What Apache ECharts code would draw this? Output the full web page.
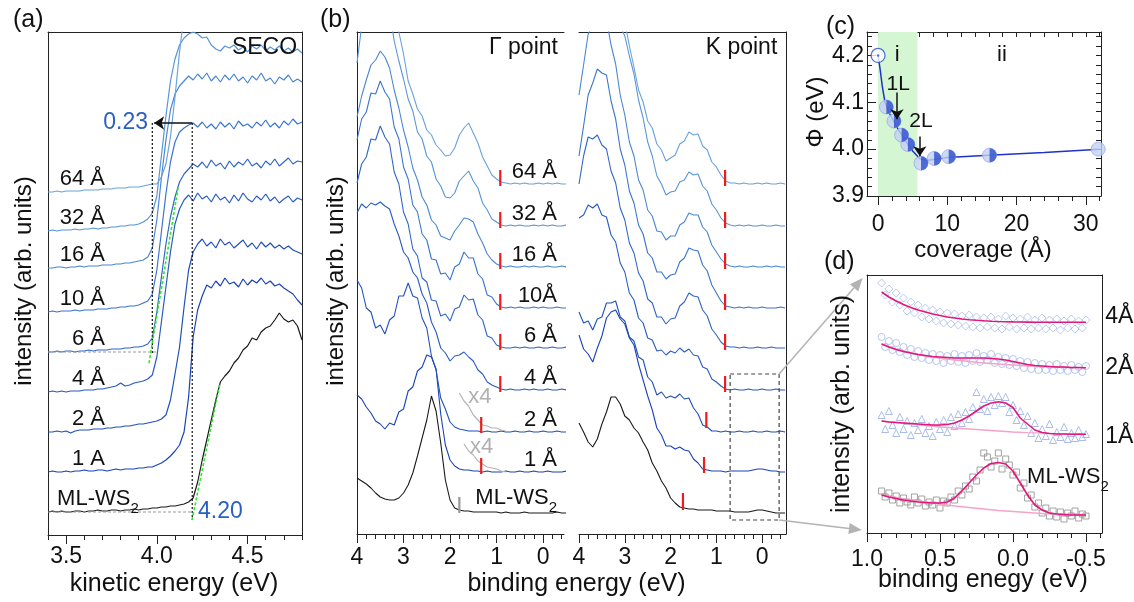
<!DOCTYPE html>
<html><head><meta charset="utf-8">
<script src="https://cdn.jsdelivr.net/npm/echarts@6/dist/echarts.min.js"></script>
<style>html,body{margin:0;padding:0;background:#fff}#c{width:1134px;height:602px}</style>
</head><body><div id="c"></div>
<script>
// ================= DATA =================
function range(a, step, n){const r=[];for(let i=0;i<n;i++)r.push(+(a+step*i).toFixed(4));return r;}
// ---- panel (a): SECO, kinetic energy grid 3.4..4.8 (0.025 eV) ----
const keA = range(3.4, 0.025, 57);
const aLabels = ['ML-WS','1 A','2 Å','4 Å','6 Å','10 Å','16 Å','32 Å','64 Å'];
const aOffsets = [23, 63, 103, 143, 183, 223, 267, 304, 343];
const aML  = [0,1,0,1,0,0,1,1,0,1,1,2,1,1,2,2,1,2,2,3,2, 3,3,4,4,5,5,6,6,7,8,10,14, 30,52,72,92,112,130,136,141,149,154,162,166,174,172,180,184,186,192,199,193,190,192,186,172];
const a1   = [0,1,0,0,1,0,1,1,2,1,1,2,2,1,2,3,2,3,3,3,4, 4,5,5,7,9,12,16,21,27,40,75,135, 162,176,187,184,191,186,194,188,190,185,193,187,192,189,194,188,191,186,188,184,181,178,172,167];
const a2   = [0,0,1,0,1,-1,1,2,2,2,3,3,3,4,4,5,5,6,6,7,8, 8,9,10,11,13,17,32,58,85,125,162,180, 188,193,186,190,184,193,187,190,184,188,192,185,189,183,190,185,189,184,187,183,186,182,180,178];
const a4   = [0,1,0,1,0,1,1,1,2,2,2,3,3,4,5,6,9,6,7,9,10, 11,13,17,35,70,105,140,168,183,192,197,191, 199,193,196,190,198,192,195,189,197,191,199,193,190,196,192,198,191,195,189,193,196,190,194,192];
const a6   = [0,0,1,0,1,1,0,1,1,2,1,2,2,2,3,3,3,4,4,5,5, 6,8,14,40,75,108,135,155,170,178,183,188, 185,190,184,192,186,189,183,191,185,190,187,193,186,189,184,191,187,193,186,190,194,188,191,190];
const a10  = [0,1,0,1,1,1,2,1,2,2,2,3,3,3,4,4,5,5,6,6,7, 9,11,18,42,80,118,150,170,180,184,187,189, 185,190,184,188,183,190,185,189,183,191,186,188,184,190,186,192,185,189,184,191,187,193,188,190];
const a16  = [0,0,1,1,0,1,1,2,1,2,2,2,3,3,3,4,4,5,5,6,7, 8,11,20,48,90,128,158,174,182,187,192,188, 194,189,195,187,192,186,193,188,194,187,191,185,192,188,195,187,190,184,191,188,193,186,189,186];
const a32  = [0,1,0,1,1,1,2,1,2,2,3,2,3,3,4,4,5,5,6,6,7, 9,12,18,35,75,115,150,172,186,193,197,199, 197,193,194,186,182,180,185,183,186,181,184,179,185,182,186,180,184,181,185,180,183,179,182,178];
const a64  = [0,0,1,0,1,1,1,1,2,2,2,2,3,3,3,4,4,4,5,5,5, 6,7,8,8,15,28,55,95,140,178,192,198, 196,199,194,197,193,198,195,196,193,197,194,199,195,196,192,197,194,198,195,193,196,194,197,195];
const aCurves = [aML,a1,a2,a4,a6,a10,a16,a32,a64];

// ---- panel (b): binding energy grid 4.0..-0.5 (0.1 eV) ----
const beB = range(4.0, -0.1, 46);
const bLabels = ['ML-WS','1 Å','2 Å','4 Å','6 Å','10Å','16 Å','32 Å','64 Å'];
const bOffsets = [21, 62, 102, 144, 186, 226, 267, 308, 350];
const gML = [35,32,29,25,20,16,14,13,13,15, 20,28,40,57,75,93,117,102,70,33, 13,5,3,2,2,1,1,1,1,1, 1,0,1,0,0,0,1,0,0,0, 0,0,0,1,0,0];
const g1  = [77,73,65,59,51,48,43,49,47,60, 63,81,85,101,105,117,115,103,58,27, 12,6,3,2,2,1,1,0,1,0, 0,0,1,0,0,1,0,0,1,0, 0,1,0,0,0,1];
const g2  = [152,144,124,120,104,107,98,112,116,136, 136,149,136,134,114,104,76,62,34,23, 10,5,3,2,1,1,1,0,1,0, 0,1,0,0,1,0,0,1,0,0, 1,0,0,1,0,0];
const g4  = [177,186,182,187,185,188,184,181,166,154, 138,132,118,112,96,87,68,58,42,37, 29,34,35,38,33,29,20,16,8,5, 3,1,0,1,0,0,1,0,1,0, 0,1,0,0,1,0];
const g6  = [165,184,191,209,208,222,211,204,176,164, 136,124,99,92,70,66,48,47,32,34, 27,39,41,53,48,49,33,28,12,10, 3,1,0,0,1,0,1,0,0,1, 0,0,1,0,0,1];
const g10 = [168,189,196,215,214,227,216,209,181,169, 141,129,103,96,74,68,49,48,34,35, 28,41,44,56,50,50,34,29,13,11, 4,1,0,1,0,1,0,0,1,0, 1,0,0,1,0,0];
const g16 = [150,171,187,202,207,216,210,199,177,159, 137,120,99,87,70,62,47,42,31,29, 27,36,42,49,48,45,33,24,13,7, 3,1,0,1,0,0,1,0,1,0, 0,1,0,0,1,0];
const g32 = [163,200,225,240,248,252,245,215,185,165, 147,127,115,94,87,70,64,47,40,29, 28,33,45,50,55,45,38,23,16,7, 4,1,0,1,0,1,0,0,1,0, 1,0,1,0,0,1];
const g64 = [200,230,250,262,268,270,268,240,195,152, 130,103,90,75,68,54,49,39,34,28, 29,36,49,56,61,51,41,27,18,9, 5,2,1,0,1,0,1,0,0,1, 0,1,0,1,0,0];
const gCurves = [gML,g1,g2,g4,g6,g10,g16,g32,g64];
const kML = [90,81,71,66,74,89,101,116,116,109, 97,93,85,80,71,63,50,42,32,25, 15,10,6,5,4,4,3,3,3,3, 2,2,2,2,1,1,1,1,2,3, 3,2,1,0,0,0];
const k1  = [137,123,118,110,124,136,154,160,162,153, 148,134,127,108,92,76,62,44,37,26, 26,23,25,22,21,13,9,3,2,1, 1,1,0,1,1,1,1,1,2,3, 3,2,1,1,0,0];
const k2  = [120,109,111,102,113,115,129,129,131,115, 111,95,91,75,72,55,50,37,40,34, 36,34,38,33,34,24,18,7,5,1, 1,0,1,0,0,1,0,0,1,0, 0,1,0,0,1,0];
const k4  = [172,175,185,182,186,175,173,155,148,127, 118,97,90,72,67,52,50,39,40,35, 39,37,42,38,41,35,34,23,21,11, 8,4,1,0,1,0,0,1,0,0, 1,0,0,1,0,0];
const k6  = [164,192,211,209,213,203,199,177,165,140, 128,105,95,75,67,49,45,31,31,24, 29,30,42,46,55,52,51,38,32,19, 13,6,2,1,1,0,1,0,0,1, 0,0,1,0,0,0];
const k10 = [152,182,213,225,239,235,233,207,189,159, 143,117,105,83,74,55,50,36,36,29, 33,34,46,50,60,58,57,43,37,23, 15,7,2,1,0,1,0,1,0,0, 1,0,0,0,1,0];
const k16 = [172,202,233,242,253,249,247,222,203,172, 152,125,111,87,77,57,51,36,35,27, 31,31,42,45,54,52,52,40,35,22, 15,8,3,1,0,1,0,0,1,0, 0,1,0,1,0,0];
const k32 = [200,230,250,260,262,262,255,235,215,200, 190,170,152,126,108,84,70,50,42,31, 34,35,44,46,54,51,52,40,35,22, 16,8,3,1,0,1,0,1,0,0, 1,0,0,1,0,0];
const k64 = [230,245,255,262,265,265,255,230,205,180, 162,138,117,94,82,63,56,40,34,23, 26,29,40,43,52,49,50,38,34,22, 17,9,3,1,1,0,1,0,0,1, 0,1,0,0,1,0];
const kCurves = [kML,k1,k2,k4,k6,k10,k16,k32,k64];
// x4 magnified traces (Γ, 1 Å and 2 Å)
const gx4BE2 = [1.8,1.7,1.6,1.5,1.4,1.3,1.2,1.1,1.0,0.9,0.8];
const gx4v2  = [39,31,26,17,12,7,6,4,4,2,1];
const gx4BE1 = [1.7,1.6,1.5,1.4,1.3,1.2,1.1,1.0,0.9,0.8];
const gx4v1  = [28,21,17,11,8,5,4,3,1,0];
// onset marks (binding energy)
const gMarkBE = [1.8,1.33,1.33,0.92,0.92,0.92,0.92,0.92,0.92];
const kMarkBE = [1.73,1.27,1.22,0.81,0.81,0.81,0.81,0.81,0.81];

// ---- panel (c): work function vs coverage ----
const cCov = [0, 1.2, 2.3, 3.4, 4.3, 6.2, 8.1, 10.2, 16.1, 31.8];
const cPhi = [4.20, 4.09, 4.06, 4.03, 4.01, 3.97, 3.98, 3.984, 3.987, 4.0];
const cFitCov = [0,0.3,0.6,1.0,1.5,2,2.5,3,4,5,6,7,8,10,16,24,32];
const cFitPhi = [4.2,4.17,4.135,4.1,4.08,4.067,4.053,4.04,4.017,3.996,3.98,3.976,3.978,3.982,3.987,3.993,4.0];

// ---- panel (d): zoom near E_F ----
const beD = range(0.9, -0.025, 57);
const beFit = range(0.9, -0.05, 29);
const beBg = range(0.9, -0.1, 15);
const dML = [42,36,40,33,37,30,35,31,28,36,30,34,27,31,28,33,25,32,30,36,33,42,38,47,44,56,52,63,80,76,66,72,80,64,74,68,58,61,45,50,35,38,26,30,20,25,17,22,16,21,14,20,17,22,15,19,17];
const d1  = [118,104,122,108,100,116,104,112,98,110,103,114,100,107,97,111,104,113,101,116,107,119,110,121,114,126,141,124,134,122,136,128,137,130,136,121,128,113,122,108,117,100,110,95,104,97,109,93,101,96,106,94,100,95,103,96,99];
const d2  = [196,186,192,183,190,181,186,178,184,176,182,175,180,173,179,172,178,170,177,172,179,171,177,170,178,172,180,171,177,173,179,170,176,169,175,168,174,167,172,165,171,164,170,163,169,163,168,162,169,163,167,162,168,163,166,161,167];
const d4  = [250,238,244,231,240,228,235,222,231,220,228,216,225,214,223,212,221,210,220,209,219,208,217,207,218,206,216,205,215,206,216,205,214,204,217,206,215,204,214,205,216,204,213,205,215,204,213,205,214,203,212,205,214,204,212,205,213];
const dFitML = [38,36,34.5,33,32,31,30.5,30,30,31,35,42,50,58,65,69.5,70.5,69,62,50,38,28,23,20,19,18.5,18,18,18];
const dFit1  = [112,111,110.5,110,109.5,109,108.5,108,108,108.5,110,113,117,122,127,130,131.3,130,125.5,115,109,103,100.5,99.5,99,99,98.8,98.7,98.7];
const dFit2  = [189,186,183.5,181.5,180,178.5,177.5,176.5,176,175.5,175,175,175,175,175,174.5,174,173,171.5,170,168.5,167.5,167,166.5,166,166,165.5,165.5,165.3];
const dFit4  = [241,236,232,228.5,225.5,223,221,219,217.5,216,215,214,213.3,212.7,212.2,211.8,211.5,211.3,211.1,211,210.9,210.8,210.8,210.7,210.7,210.7,210.7,210.7,210.7];
const dBgML = [38,35.5,33,31,29,27,25.5,24,22.5,21.5,20.5,19.5,19,18.5,18];
const dBg1  = [112,110.5,109,107.5,106,105,104,103,102,101,100.3,99.8,99.3,99,98.7];
const dBg2  = [189,184,180,177,175,173,171.5,170,169,168,167,166.5,166,165.5,165.3];

// ================= CHART =================
const F = '"Liberation Sans", Arial, Helvetica, sans-serif';
const cols = ['#1a1a1a','#1b43b5','#2150bb','#295bc1','#3066c6','#3b75cc','#4a86d2','#5895d8','#68a3dd'];
const chart = echarts.init(document.getElementById('c'));
const AX = {color:'#222', width:1};
function botAxes(gi,min,max,inv,minor,major,labels,fmt,margin){
  return [
    {type:'value',gridIndex:gi,position:'bottom',min,max,inverse:inv,
     axisLine:{show:true,onZero:false,lineStyle:AX},
     axisTick:{show:true,customValues:minor,length:5,lineStyle:AX},
     axisLabel:{show:true,customValues:labels,formatter:fmt,fontSize:23,fontFamily:F,color:'#111',margin},
     splitLine:{show:false}},
    {type:'value',gridIndex:gi,position:'bottom',min,max,inverse:inv,
     axisLine:{show:false,onZero:false},axisTick:{show:true,customValues:major,length:9,lineStyle:AX},
     axisLabel:{show:false},splitLine:{show:false}}
  ];
}
function lineAxis(kind,gi,pos,min,max,inv,extra){
  return Object.assign({type:'value',gridIndex:gi,position:pos,min,max,inverse:!!inv,
    axisLine:{show:true,onZero:false,lineStyle:AX},axisTick:{show:false},axisLabel:{show:false},splitLine:{show:false}},extra||{});
}
const r1 = v=>v.toFixed(1), r0 = v=>String(Math.round(v));
const aMinor = range(3.4,0.1,15), bMinor = range(4.0,-0.2,23), dMinor = range(1.0,-0.1,17);
const xAxis = [].concat(
  botAxes(0,3.4,4.8,false,aMinor,[3.5,4.0,4.5],[3.5,4.0,4.5],r1,10),   //0,1
  [lineAxis('x',0,'top',3.4,4.8)],                                       //2
  botAxes(1,-0.45,4,true,bMinor,[0,1,2,3,4],[0,1,2,3,4],r0,12),        //3,4
  [lineAxis('x',1,'top',-0.45,4,true)],                                  //5
  botAxes(2,-0.52,4,true,bMinor,[0,1,2,3,4],[0,1,2,3,4],r0,12),        //6,7
  [lineAxis('x',2,'top',-0.52,4,true)],                                  //8
  botAxes(3,-1.6,32.2,false,range(0,2,17),[0,10,20,30],[0,10,20,30],r0,17), //9,10
  [lineAxis('x',3,'top',-1.6,32.2,false,{axisTick:{show:true,inside:true,customValues:range(0,2,17),length:5,lineStyle:AX}})], //11
  botAxes(4,-0.61,1.0,true,dMinor,[1.0,0.5,0,-0.5],[1.0,0.5,0,-0.5],r1,15), //12,13
  [lineAxis('x',4,'top',-0.61,1.0,true)]                                 //14
);
const cMinorY = range(3.9,0.02,18);
const yAxis = [
  lineAxis('y',0,'left',0,503),            //0
  lineAxis('y',0,'right',0,503),           //1
  lineAxis('y',1,'left',0,502),            //2
  {type:'value',gridIndex:2,min:0,max:502,show:false}, //3
  lineAxis('y',2,'right',0,502),           //4
  {type:'value',gridIndex:3,position:'left',min:3.9,max:4.25,
   axisLine:{show:true,onZero:false,lineStyle:AX},
   axisTick:{show:true,inside:true,customValues:cMinorY,length:5,lineStyle:AX},
   axisLabel:{show:true,customValues:[3.9,4.0,4.1,4.2],formatter:r1,fontSize:23,fontFamily:F,color:'#111',margin:3},
   splitLine:{show:false}},                //5
  {type:'value',gridIndex:3,position:'left',min:3.9,max:4.25,axisLine:{show:false,onZero:false},
   axisTick:{show:true,inside:true,customValues:[3.9,4.0,4.1,4.2],length:9,lineStyle:AX},axisLabel:{show:false},splitLine:{show:false}}, //6
  lineAxis('y',3,'right',3.9,4.25,false,{axisTick:{show:true,inside:true,customValues:cMinorY,length:5,lineStyle:AX}}), //7
  lineAxis('y',4,'left',0,258),            //8
  lineAxis('y',4,'right',0,258)            //9
];
const S = [];
function addLine(xi,yi,xs,ys,off,color,w,extra){
  S.push(Object.assign({type:'line',xAxisIndex:xi,yAxisIndex:yi,data:xs.map((x,i)=>[x,ys[i]+off]),
    symbol:'none',lineStyle:{color,width:w||1.1},silent:true,z:3},extra||{}));
}
function dashed(xi,yi,xs,ys,color,type,w){ addLine(xi,yi,xs,ys,0,color,w||1.2,{lineStyle:{color,width:w||1.2,type},z:4}); }
// (a)
aCurves.forEach((c,k)=>addLine(0,0,keA,c,aOffsets[k],cols[k],1.2));
dashed(0,0,[3.4,4.0],[183,183],'#999',[3,2]);
dashed(0,0,[3.4,4.2],[23,23],'#999',[3,2]);
dashed(0,0,[3.975,3.975],[412,180],'#111',[2,2]);
dashed(0,0,[4.195,4.195],[412,15],'#111',[2,2]);
dashed(0,0,[3.957,4.117],[172,347],'#2ee62e',[3,2],1.6);
dashed(0,0,[4.194,4.348],[15,152],'#2ee62e',[3,2],1.6);
S.push({type:'lines',coordinateSystem:'cartesian2d',xAxisIndex:0,yAxisIndex:0,silent:true,z:6,
  data:[{coords:[[4.195,412],[3.985,412]]}],symbol:['none','arrow'],symbolSize:10,
  lineStyle:{color:'#111',width:1.5,opacity:1}});
// (b)
const markLo=[0,-2,-1,-2,-2,-2,-2,-2,-2], markHi=[16,14,15,14,14,14,14,14,14];
const kLo=[3,-1,4,-2,-2,-2,-2,-2,-2], kHi=[20,15,20,14,14,14,14,14,14];
gCurves.forEach((c,k)=>addLine(3,2,beB,c,bOffsets[k],cols[k],1.1));
kCurves.forEach((c,k)=>addLine(6,3,beB,c,bOffsets[k],cols[k],1.1));
addLine(3,2,gx4BE2,gx4v2,bOffsets[2],'#b5b5b5',1.2);
addLine(3,2,gx4BE1,gx4v1,bOffsets[1],'#b5b5b5',1.2);
gMarkBE.forEach((b,k)=>addLine(3,2,[b,b],[markLo[k],markHi[k]],bOffsets[k],k===0?'#999':'#ee1c1c',2.2,{z:5}));
kMarkBE.forEach((b,k)=>addLine(6,3,[b,b],[kLo[k],kHi[k]],bOffsets[k],'#ee1c1c',2.2,{z:5}));
dashed(6,3,[0.70,-0.37,-0.37,0.70,0.70],[160,160,14,14,160],'#444',[4,3],1.2);
// (c)
S.push({type:'line',xAxisIndex:9,yAxisIndex:5,data:[[0,3.95]],symbol:'none',lineStyle:{width:0},silent:true,z:1,
  markArea:{silent:true,itemStyle:{color:'#d4f6d2'},data:[[{xAxis:0},{xAxis:5.7}]]}});
addLine(9,5,cFitCov,cFitPhi,0,'#1f33c9',1.5,{z:3});
S.push({type:'scatter',xAxisIndex:9,yAxisIndex:5,silent:true,z:4,symbol:'circle',symbolSize:14,
  data:cCov.slice(1).map((x,i)=>[x,cPhi[i+1]]),itemStyle:{color:'#c3d1f4',borderColor:'#98ace8',borderWidth:1}});
S.push({type:'scatter',xAxisIndex:9,yAxisIndex:5,silent:true,z:5,symbol:'path://M0,0A10,10 0 0,1 0,20Z',
  symbolSize:[7,14],symbolOffset:[3.5,0],data:cCov.slice(1,9).map((x,i)=>[x,cPhi[i+1]]),itemStyle:{color:'#2d4dcc'}});
S.push({type:'scatter',xAxisIndex:9,yAxisIndex:5,silent:true,z:6,symbol:'circle',symbolSize:14,
  data:[[cCov[0],cPhi[0]]],itemStyle:{color:'#fff',borderColor:'#2d4dcc',borderWidth:1.3}});
S.push({type:'scatter',xAxisIndex:9,yAxisIndex:5,silent:true,z:7,symbol:'circle',symbolSize:2.5,
  data:[[cCov[0],cPhi[0]]],itemStyle:{color:'#2d4dcc'}});
S.push({type:'lines',coordinateSystem:'cartesian2d',xAxisIndex:9,yAxisIndex:5,silent:true,z:8,
  data:[{coords:[[2.73,4.121],[2.73,4.064]]},{coords:[[6.03,4.027],[6.03,3.985]]}],symbol:['none','arrow'],symbolSize:10,
  lineStyle:{color:'#111',width:1.5,opacity:1}});
// (d)
function sc(data,symbol,color,size){S.push({type:'scatter',xAxisIndex:12,yAxisIndex:8,silent:true,z:3,symbol,symbolSize:size,
  data:beD.map((b,i)=>[b,data[i]]),itemStyle:{color:'rgba(255,255,255,0)',borderColor:color,borderWidth:1}});}
sc(dML,'rect','#8c8c8c',6); sc(d1,'triangle','#93ace6',7); sc(d2,'circle','#a4b8ea',7); sc(d4,'diamond','#a9bdec',8);
addLine(12,8,beBg,dBgML,0,'#f6a3c8',1.3,{z:4}); addLine(12,8,beBg,dBg1,0,'#f6a3c8',1.3,{z:4}); addLine(12,8,beBg,dBg2,0,'#f6a3c8',1.3,{z:4});
addLine(12,8,beFit,dFitML,0,'#e4157c',1.6,{z:5}); addLine(12,8,beFit,dFit1,0,'#e4157c',1.6,{z:5});
addLine(12,8,beFit,dFit2,0,'#e4157c',1.6,{z:5}); addLine(12,8,beFit,dFit4,0,'#e4157c',1.6,{z:5});

chart.setOption({
  animation:false, backgroundColor:'#fff',
  grid:[{left:48,top:32,width:254,height:503},{left:357,top:32,width:207,height:502},{left:579,top:32,width:207,height:502},
        {left:867,top:32,width:234,height:164},{left:867,top:275,width:235,height:258}],
  xAxis, yAxis, series:S
});

// ================= TEXT & DECORATIONS =================
function pix(xi,yi,x,y){return chart.convertToPixel({xAxisIndex:xi,yAxisIndex:yi},[x,y]);}
function T(px,py,text,o){
  o=o||{}; const size=o.size||22, fill=o.color||'#111';
  const st={text,fill,font:size+'px '+F,align:o.align||'left',verticalAlign:o.va||'middle',textAlign:o.align||'left',textVerticalAlign:o.va||'middle'};
  if(o.sub){st.text='{a|'+text+'}{s|'+o.sub+'}';
    st.rich={a:{fontSize:size,fontFamily:F,fill,padding:[0,0,Math.round(size*0.3),0],verticalAlign:'bottom'},
             s:{fontSize:Math.round(size*0.7),fontFamily:F,fill,verticalAlign:'bottom'}};}
  const el={type:'text',x:px,y:py,style:st,z:100,silent:true};
  if(o.rot) el.rotation=o.rot;
  return el;
}
function TD(xi,yi,x,y,text,o){const p=pix(xi,yi,x,y);return T(p[0],p[1],text,o);}
function arrowG(p0,p1,color){
  const dx=p1[0]-p0[0],dy=p1[1]-p0[1],L=Math.hypot(dx,dy),ux=dx/L,uy=dy/L,hl=13,hw=5.5;
  const bx=p1[0]-ux*hl,by=p1[1]-uy*hl;
  return [{type:'line',shape:{x1:p0[0],y1:p0[1],x2:bx,y2:by},style:{stroke:color,lineWidth:1.5},z:90,silent:true},
          {type:'polygon',shape:{points:[[p1[0],p1[1]],[bx-uy*hw,by+ux*hw],[bx+uy*hw,by-ux*hw]]},style:{fill:color},z:90,silent:true}];
}
const G=[];
G.push(T(13,20,'(a)',{size:25}), T(320,20,'(b)',{size:25}), T(826,27,'(c)',{size:25}), T(824,262,'(d)',{size:25}));
G.push(T(24,281,'intensity (arb. units)',{size:24,align:'center',rot:Math.PI/2}));
G.push(T(336,281,'intensity (arb. units)',{size:24,align:'center',rot:Math.PI/2}));
G.push(T(842,404,'intensity (arb. units)',{size:25,align:'center',rot:Math.PI/2}));
G.push(T(816,112,'Φ (eV)',{size:24,align:'center',rot:Math.PI/2}));
G.push(T(174,584,'kinetic energy (eV)',{size:25,align:'center'}));
const gl=pix(3,2,4,0)[0], kr=pix(6,3,-0.52,0)[0];
G.push(T((gl+kr)/2+5,584,'binding energy (eV)',{size:25,align:'center'}));
G.push(T(983,250,'coverage (Å)',{size:24,align:'center'}));
G.push(T(983,580,'binding enegy (eV)',{size:25,align:'center'}));
aLabels.forEach((t,k)=>{ if(k===0) G.push(TD(0,0,3.45,aOffsets[k]+10,t,{sub:'2'}));
  else G.push(TD(0,0,3.714,aOffsets[k]+13,t,{align:'right'})); });
G.push(TD(0,0,4.773,487,'SECO',{size:23,align:'right'}));
G.push(TD(0,0,3.951,412,'0.23',{size:23,align:'right',color:'#2a5fc4'}));
G.push(TD(0,0,4.227,23,'4.20',{size:23,color:'#2a5fc4'}));
bLabels.forEach((t,k)=>{ G.push(TD(3,2,-0.30,bOffsets[k]+12,t,k===0?{align:'right',sub:'2'}:{align:'right'})); });
G.push(TD(3,2,-0.32,486,'Γ point',{size:23,align:'right'}));
G.push(TD(6,3,-0.33,486,'K point',{size:23,align:'right'}));
G.push(TD(3,2,1.61,137,'x4',{size:22,color:'#b0b0b0'}));
G.push(TD(3,2,1.57,87,'x4',{size:22,color:'#b0b0b0'}));
G.push(TD(9,5,2.75,4.2,'i',{size:22,align:'center'}));
G.push(TD(9,5,17.9,4.2,'ii',{size:22,align:'center'}));
G.push(TD(9,5,2.9,4.138,'1L',{size:21,align:'center'}));
G.push(TD(9,5,6.2,4.059,'2L',{size:21,align:'center'}));
G.push(TD(12,8,-0.632,216,'4Å',{size:23}));
G.push(TD(12,8,-0.632,165,'2Å',{size:23}));
G.push(TD(12,8,-0.632,96,'1Å',{size:23}));
G.push(TD(12,8,-0.097,53,'ML-WS',{size:22,sub:'2'}));
arrowG(pix(6,3,-0.37,160),pix(12,8,1.03,255),'#b3b3b3').forEach(e=>G.push(e));
arrowG(pix(6,3,-0.37,14),pix(12,8,1.035,3),'#b3b3b3').forEach(e=>G.push(e));
chart.setOption({graphic:G});
</script></body></html>
